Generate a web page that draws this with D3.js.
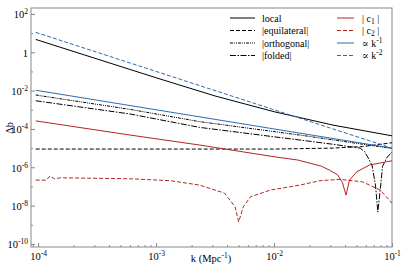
<!DOCTYPE html>
<html>
<head>
<meta charset="utf-8">
<script src="https://cdn.jsdelivr.net/npm/d3@7"></script>
<style>
  body { margin: 0; background: #fff; }
  text { font-family: "Liberation Serif", "DejaVu Serif", serif; }
</style>
</head>
<body>
<main></main>
<script>
// Set dimensions
const w = 407;
const h = 271;
const plot = { left: 31, right: 392, top: 8, bottom: 247 };

// Data as log10(k) and log10(Δb)
const localK = [-4.02, -3.5, -3, -2.5, -2, -1.5, -1];
const localB = [0.67, -0.35, -1.33, -2.28, -3.1, -3.8, -4.36];

const equilK = [-4.02, -2, -1.5, -1.25, -1];
const equilB = [-5.05, -5.05, -5.0, -4.92, -4.72];

const orthoK = [-4.02, -3.22, -2.63, -1.78, -1];
const orthoB = [-2.23, -2.98, -3.62, -4.32, -5.02];

const foldK = [-4.02, -3.22, -2.63, -1.78, -1.5, -1.36, -1.27, -1.23, -1.17, -1.14, -1.12, -1.1, -1.08, -1.04, -1];
const foldB = [-2.53, -3.22, -3.92, -4.58, -4.8, -4.92, -5.0, -5.2, -5.88, -6.93, -8.34, -7.2, -5.95, -5.47, -5.2];

const c1K = [-4.02, -3.22, -2.63, -2, -1.8, -1.6, -1.53, -1.46, -1.42, -1.39, -1.36, -1.3, -1.19, -1];
const c1B = [-3.58, -4.32, -4.84, -5.45, -5.62, -5.94, -6.15, -6.4, -6.8, -7.45, -6.67, -6.24, -5.88, -5.66];

const c2K = [-4.02, -3.93, -3.9, -3.86, -3.81, -3.22, -2.88, -2.63, -2.42, -2.33, -2.3, -2.26, -2.2, -2.03, -1.78, -1.61, -1.44, -1.25, -1.1, -1];
const c2B = [-6.67, -6.67, -6.46, -6.6, -6.55, -6.6, -6.7, -6.93, -7.35, -8.06, -8.85, -8.06, -7.54, -7.19, -6.93, -6.7, -6.63, -6.76, -7.19, -7.87];

const k1K = [-4.02, -1];
const k1B = [-1.98, -5.0];

const k2K = [-4.02, -1];
const k2B = [1.04, -5.0];

// Tick values
const xMajor = [-4, -3, -2, -1];
const yMajor = [-10, -8, -6, -4, -2, 0, 2];
const yMinor = [-9, -7, -5, -3, -1, 1];

const black = "#000";
const red = "#b3261e";
const blue = "#2b6cb0";

const series = [
  { name: "local", k: localK, b: localB, color: black, dash: null },
  { name: "|equilateral|", k: equilK, b: equilB, color: black, dash: "4,2" },
  { name: "|orthogonal|", k: orthoK, b: orthoB, color: black, dash: "3,1,1,1,1,1" },
  { name: "|folded|", k: foldK, b: foldB, color: black, dash: "6,1.5,1.5,1.5" },
  { name: "c1", k: c1K, b: c1B, color: red, dash: null },
  { name: "c2", k: c2K, b: c2B, color: red, dash: "4,2" },
  { name: "k1", k: k1K, b: k1B, color: blue, dash: null },
  { name: "k2", k: k2K, b: k2B, color: blue, dash: "4,2" },
];

// Create svg
const svg = d3
  .select("main")
  .append("svg")
  .attr("width", w)
  .attr("height", h)
  .attr("viewBox", `0 0 ${w} ${h}`);

// Scales
const xScale = d3
  .scaleLog()
  .domain([Math.pow(10, -4.06), 0.1])
  .range([plot.left, plot.right]);

const yScale = d3
  .scaleLog()
  .domain([Math.pow(10, -10.16), Math.pow(10, 2.31)])
  .range([plot.bottom, plot.top]);

// Clip
svg
  .append("clipPath")
  .attr("id", "clip")
  .append("rect")
  .attr("x", plot.left)
  .attr("y", plot.top)
  .attr("width", plot.right - plot.left)
  .attr("height", plot.bottom - plot.top);

// Minor x ticks
const xMinor = [];
for (let e = -5; e <= -2; e++) {
  for (let m = 2; m <= 9; m++) {
    const v = m * Math.pow(10, e);
    if (v >= xScale.domain()[0] && v <= 0.1) xMinor.push(v);
  }
}

const axisColor = "#888";

svg
  .append("g")
  .attr("transform", `translate(0, ${plot.bottom})`)
  .call(d3.axisBottom(xScale).tickValues(xMinor).tickSize(-2).tickFormat(""))
  .call((g) => g.select(".domain").remove())
  .call((g) => g.selectAll("line").attr("stroke", axisColor));

const xAxis = svg
  .append("g")
  .attr("transform", `translate(0, ${plot.bottom})`)
  .call(
    d3
      .axisBottom(xScale)
      .tickValues(xMajor.map((e) => Math.pow(10, e)))
      .tickSize(-4)
      .tickPadding(5)
      .tickFormat("")
  )
  .call((g) => g.select(".domain").remove())
  .call((g) => g.selectAll("line").attr("stroke", axisColor));

xAxis
  .selectAll(".tick")
  .append("text")
  .attr("y", 13)
  .attr("fill", "#000")
  .attr("font-size", 10.5)
  .attr("text-anchor", "middle")
  .each(function (d) {
    const t = d3.select(this);
    t.append("tspan").text("10");
    t.append("tspan").attr("dy", -4).attr("font-size", 7.5).text(Math.round(Math.log10(d)));
  });

// Y axis
svg
  .append("g")
  .attr("transform", `translate(${plot.left}, 0)`)
  .call(
    d3
      .axisLeft(yScale)
      .tickValues(yMinor.map((e) => Math.pow(10, e)))
      .tickSize(-2)
      .tickFormat("")
  )
  .call((g) => g.select(".domain").remove())
  .call((g) => g.selectAll("line").attr("stroke", axisColor));

const yAxis = svg
  .append("g")
  .attr("transform", `translate(${plot.left}, 0)`)
  .call(
    d3
      .axisLeft(yScale)
      .tickValues(yMajor.map((e) => Math.pow(10, e)))
      .tickSize(-4)
      .tickFormat("")
  )
  .call((g) => g.select(".domain").remove())
  .call((g) => g.selectAll("line").attr("stroke", axisColor));

yAxis
  .selectAll(".tick")
  .append("text")
  .attr("x", -3)
  .attr("y", 4)
  .attr("fill", "#000")
  .attr("font-size", 10.5)
  .attr("text-anchor", "end")
  .each(function (d) {
    const t = d3.select(this);
    const e = Math.round(Math.log10(d));
    if (e === 0) {
      t.text("1");
    } else {
      t.append("tspan").text("10");
      t.append("tspan").attr("dy", -4).attr("font-size", 7.5).text(e);
    }
  });

// Frame
svg
  .append("rect")
  .attr("x", plot.left)
  .attr("y", plot.top)
  .attr("width", plot.right - plot.left)
  .attr("height", plot.bottom - plot.top)
  .attr("fill", "none")
  .attr("stroke", axisColor)
  .attr("stroke-width", 1);

// Axis labels
const xLabel = svg
  .append("text")
  .attr("x", 211)
  .attr("y", 262)
  .attr("text-anchor", "middle")
  .attr("font-size", 10.5);
xLabel.append("tspan").text("k (Mpc");
xLabel.append("tspan").attr("dy", -4).attr("font-size", 7.5).text("-1");
xLabel.append("tspan").attr("dy", 4).text(")");

svg
  .append("text")
  .attr("transform", `translate(13, 128) rotate(-90)`)
  .attr("text-anchor", "middle")
  .attr("font-size", 10.5)
  .text("Δb");

// Lines
const line = d3
  .line()
  .x((d) => xScale(Math.pow(10, d[0])))
  .y((d) => yScale(Math.pow(10, d[1])));

svg
  .append("g")
  .attr("clip-path", "url(#clip)")
  .selectAll("path")
  .data(series)
  .enter()
  .append("path")
  .attr("d", (s) => line(s.k.map((k, i) => [k, s.b[i]])))
  .attr("fill", "none")
  .attr("stroke", (s) => s.color)
  .attr("stroke-width", 1)
  .attr("stroke-dasharray", (s) => s.dash);

// Legend
const legendItems = [
  { s: series[0], x: 230, y: 18, label: [["local"]] },
  { s: series[1], x: 230, y: 30.5, label: [["|equilateral|"]] },
  { s: series[2], x: 230, y: 43, label: [["|orthogonal|"]] },
  { s: series[3], x: 230, y: 55.5, label: [["|folded|"]] },
  { s: series[4], x: 337, y: 18, label: [["| c"], ["1", "sub"], [" |"]] },
  { s: series[5], x: 337, y: 30.5, label: [["| c"], ["2", "sub"], [" |"]] },
  { s: series[6], x: 337, y: 43, label: [["∝ k"], ["-1", "sup"]] },
  { s: series[7], x: 337, y: 55.5, label: [["∝ k"], ["-2", "sup"]] },
];

const legend = svg.append("g").attr("id", "legend");

legendItems.forEach((item) => {
  const len = item.x < 300 ? 25 : 17;
  legend
    .append("line")
    .attr("x1", item.x)
    .attr("x2", item.x + len)
    .attr("y1", item.y)
    .attr("y2", item.y)
    .attr("stroke", item.s.color)
    .attr("stroke-width", 1)
    .attr("stroke-dasharray", item.s.dash);

  const t = legend
    .append("text")
    .attr("x", item.x < 300 ? 262 : 362)
    .attr("y", item.y + 3.5)
    .attr("font-size", 10);

  let shift = 0;
  item.label.forEach(([txt, kind]) => {
    const sp = t.append("tspan").text(txt);
    if (kind === "sub") {
      sp.attr("dy", 2 - shift).attr("font-size", 7.5);
      shift = 2;
    } else if (kind === "sup") {
      sp.attr("dy", -4 - shift).attr("font-size", 7.5);
      shift = -4;
    } else if (shift !== 0) {
      sp.attr("dy", -shift);
      shift = 0;
    }
  });
});
</script>
</body>
</html>
